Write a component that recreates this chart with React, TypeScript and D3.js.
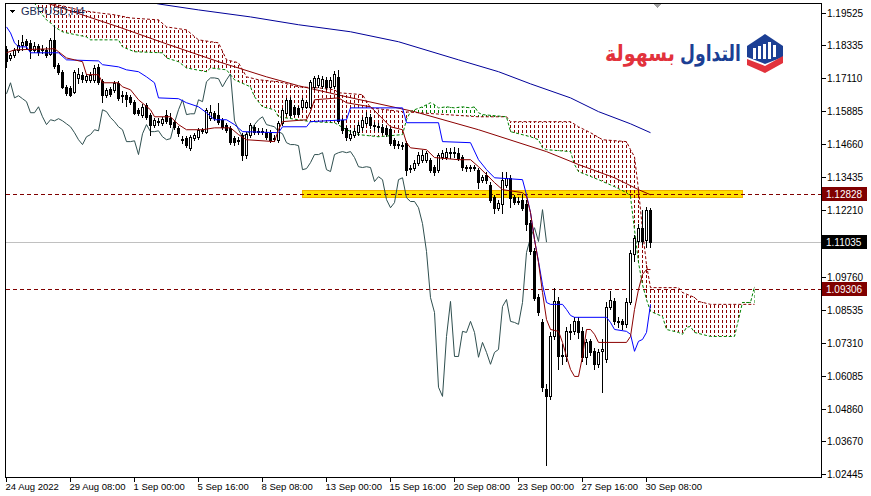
import React from "react";
import * as d3 from "d3";

// ---------- DATA (GBPUSD, H4) ----------
const opens = [
  1.1820, 1.1786, 1.1798, 1.1816, 1.1835, 1.1849, 1.1842, 1.1816, 1.1831, 1.1820,
  1.1816, 1.1801, 1.1853, 1.1761, 1.1735, 1.1679, 1.1675, 1.1661, 1.1712, 1.1724,
  1.1705, 1.1705, 1.1705, 1.1753, 1.1701, 1.1650, 1.1672, 1.1668, 1.1694, 1.1650,
  1.1650, 1.1642, 1.1624, 1.1594, 1.1576, 1.1613, 1.1576, 1.1539, 1.1550, 1.1546,
  1.1576, 1.1565, 1.1550, 1.1527, 1.1487, 1.1490, 1.1453, 1.1490, 1.1494, 1.1520,
  1.1513, 1.1565, 1.1583, 1.1576, 1.1557, 1.1539, 1.1527, 1.1490, 1.1483, 1.1502,
  1.1428, 1.1502, 1.1531, 1.1516, 1.1513, 1.1513, 1.1509, 1.1490, 1.1483, 1.1546,
  1.1583, 1.1631, 1.1605, 1.1601, 1.1605, 1.1605, 1.1605, 1.1679, 1.1686, 1.1683,
  1.1705, 1.1679, 1.1683, 1.1716, 1.1557, 1.1527, 1.1490, 1.1502, 1.1513, 1.1531,
  1.1546, 1.1568, 1.1539, 1.1535, 1.1531, 1.1527, 1.1524, 1.1483, 1.1468, 1.1465,
  1.1472, 1.1380, 1.1380, 1.1398, 1.1409, 1.1409, 1.1409, 1.1383, 1.1372, 1.1420,
  1.1420, 1.1439, 1.1435, 1.1435, 1.1420, 1.1383, 1.1380, 1.1383, 1.1372, 1.1335,
  1.1354, 1.1317, 1.1272, 1.1231, 1.1243, 1.1317, 1.1342, 1.1272, 1.1257, 1.1261,
  1.1243, 1.1176, 1.1069, 1.0902, 1.0806, 1.0558, 1.0532, 1.0754, 1.0884, 1.0684,
  1.0680, 1.0773, 1.0773, 1.0810, 1.0773, 1.0677, 1.0736, 1.0699, 1.0651, 1.0699,
  1.0669, 1.0865, 1.0884, 1.0810, 1.0810, 1.0799, 1.0880, 1.1058, 1.1106, 1.1157,
  1.1113, 1.1224,
];
const highs = [
  1.1831, 1.1805, 1.1823, 1.1853, 1.1872, 1.1857, 1.1853, 1.1846, 1.1838, 1.1835,
  1.1827, 1.1860, 1.1909, 1.1768, 1.1742, 1.1686, 1.1683, 1.1742, 1.1749, 1.1735,
  1.1727, 1.1735, 1.1761, 1.1764, 1.1709, 1.1675, 1.1679, 1.1701, 1.1701, 1.1664,
  1.1661, 1.1650, 1.1631, 1.1601, 1.1616, 1.1620, 1.1583, 1.1565, 1.1565, 1.1568,
  1.1594, 1.1583, 1.1557, 1.1535, 1.1498, 1.1498, 1.1502, 1.1509, 1.1527, 1.1527,
  1.1601, 1.1613, 1.1590, 1.1620, 1.1565, 1.1546, 1.1535, 1.1498, 1.1494, 1.1509,
  1.1513, 1.1546, 1.1539, 1.1527, 1.1527, 1.1524, 1.1520, 1.1502, 1.1553, 1.1601,
  1.1638, 1.1642, 1.1613, 1.1609, 1.1638, 1.1631, 1.1705, 1.1720, 1.1724, 1.1720,
  1.1716, 1.1716, 1.1738, 1.1742, 1.1565, 1.1535, 1.1520, 1.1527, 1.1550, 1.1568,
  1.1587, 1.1579, 1.1550, 1.1546, 1.1542, 1.1535, 1.1531, 1.1490, 1.1479, 1.1476,
  1.1479, 1.1391, 1.1409, 1.1439, 1.1446, 1.1442, 1.1417, 1.1391, 1.1435, 1.1446,
  1.1453, 1.1453, 1.1457, 1.1453, 1.1428, 1.1391, 1.1391, 1.1391, 1.1380, 1.1354,
  1.1365, 1.1328, 1.1279, 1.1261, 1.1365, 1.1365, 1.1354, 1.1279, 1.1272, 1.1283,
  1.1261, 1.1187, 1.1083, 1.0910, 1.0817, 1.0577, 1.0769, 1.0935, 1.0902, 1.0725,
  1.0788, 1.0799, 1.0825, 1.0825, 1.0788, 1.0743, 1.0743, 1.0713, 1.0706, 1.0743,
  1.0880, 1.0921, 1.0898, 1.0825, 1.0817, 1.0898, 1.1076, 1.1131, 1.1169, 1.1224,
  1.1235, 1.1231,
];
const lows = [
  1.1753, 1.1779, 1.1790, 1.1809, 1.1816, 1.1823, 1.1786, 1.1809, 1.1798, 1.1805,
  1.1790, 1.1798, 1.1749, 1.1727, 1.1675, 1.1650, 1.1646, 1.1657, 1.1694, 1.1698,
  1.1698, 1.1698, 1.1698, 1.1690, 1.1624, 1.1642, 1.1646, 1.1661, 1.1631, 1.1624,
  1.1609, 1.1616, 1.1579, 1.1576, 1.1568, 1.1561, 1.1502, 1.1531, 1.1539, 1.1539,
  1.1546, 1.1531, 1.1524, 1.1498, 1.1472, 1.1457, 1.1446, 1.1483, 1.1487, 1.1509,
  1.1509, 1.1557, 1.1557, 1.1542, 1.1524, 1.1513, 1.1468, 1.1465, 1.1468, 1.1409,
  1.1417, 1.1494, 1.1505, 1.1505, 1.1505, 1.1487, 1.1476, 1.1479, 1.1476, 1.1539,
  1.1576, 1.1568, 1.1572, 1.1572, 1.1598, 1.1601, 1.1601, 1.1672, 1.1679, 1.1675,
  1.1672, 1.1675, 1.1675, 1.1546, 1.1509, 1.1483, 1.1483, 1.1494, 1.1502, 1.1520,
  1.1539, 1.1527, 1.1520, 1.1516, 1.1505, 1.1498, 1.1465, 1.1453, 1.1453, 1.1450,
  1.1354, 1.1365, 1.1372, 1.1391, 1.1402, 1.1402, 1.1365, 1.1354, 1.1365, 1.1413,
  1.1413, 1.1417, 1.1420, 1.1409, 1.1372, 1.1368, 1.1368, 1.1372, 1.1305, 1.1328,
  1.1324, 1.1254, 1.1213, 1.1224, 1.1213, 1.1309, 1.1235, 1.1246, 1.1243, 1.1224,
  1.1150, 1.1058, 1.0891, 1.0832, 1.0551, 1.0277, 1.0521, 1.0743, 1.0632, 1.0651,
  1.0662, 1.0743, 1.0762, 1.0750, 1.0662, 1.0651, 1.0684, 1.0632, 1.0640, 1.0547,
  1.0658, 1.0854, 1.0799, 1.0788, 1.0780, 1.0788, 1.0873, 1.1032, 1.1095, 1.1095,
  1.1087, 1.1087,
];
const closes = [
  1.1775, 1.1798, 1.1816, 1.1835, 1.1846, 1.1835, 1.1816, 1.1831, 1.1809, 1.1816,
  1.1798, 1.1853, 1.1757, 1.1735, 1.1679, 1.1657, 1.1650, 1.1735, 1.1727, 1.1709,
  1.1720, 1.1724, 1.1749, 1.1698, 1.1650, 1.1668, 1.1653, 1.1694, 1.1638, 1.1646,
  1.1635, 1.1624, 1.1583, 1.1583, 1.1605, 1.1568, 1.1539, 1.1557, 1.1553, 1.1561,
  1.1553, 1.1542, 1.1531, 1.1509, 1.1483, 1.1465, 1.1494, 1.1502, 1.1520, 1.1516,
  1.1594, 1.1587, 1.1565, 1.1550, 1.1531, 1.1520, 1.1476, 1.1476, 1.1479, 1.1428,
  1.1505, 1.1539, 1.1513, 1.1513, 1.1516, 1.1494, 1.1483, 1.1487, 1.1546, 1.1594,
  1.1631, 1.1576, 1.1579, 1.1579, 1.1631, 1.1624, 1.1698, 1.1712, 1.1712, 1.1709,
  1.1679, 1.1705, 1.1727, 1.1553, 1.1520, 1.1494, 1.1505, 1.1516, 1.1539, 1.1557,
  1.1568, 1.1539, 1.1535, 1.1531, 1.1513, 1.1505, 1.1472, 1.1465, 1.1465, 1.1461,
  1.1372, 1.1376, 1.1398, 1.1428, 1.1428, 1.1435, 1.1372, 1.1365, 1.1428, 1.1435,
  1.1439, 1.1435, 1.1439, 1.1417, 1.1383, 1.1380, 1.1383, 1.1380, 1.1328, 1.1346,
  1.1335, 1.1261, 1.1231, 1.1250, 1.1335, 1.1342, 1.1268, 1.1254, 1.1254, 1.1231,
  1.1172, 1.1069, 1.0898, 1.0843, 1.0566, 1.0532, 1.0754, 1.0884, 1.0680, 1.0680,
  1.0773, 1.0769, 1.0810, 1.0769, 1.0677, 1.0732, 1.0695, 1.0651, 1.0695, 1.0706,
  1.0865, 1.0891, 1.0810, 1.0806, 1.0799, 1.0880, 1.1065, 1.1120, 1.1157, 1.1106,
  1.1224, 1.11035,
];

// Ichimoku lines, as [bar index, price] readings
const tenkan: [number, number][] = [
  [0, 1.1805], [2, 1.1816], [12, 1.1820], [13, 1.1809], [15, 1.1786], [17, 1.1779], [19, 1.1772],
  [20, 1.1724], [23, 1.1724], [24, 1.1694], [28, 1.1694], [29, 1.1679], [31, 1.1668], [33, 1.1631],
  [36, 1.1594], [37, 1.1568], [41, 1.1568], [43, 1.1539], [45, 1.1520], [49, 1.1520], [52, 1.1527],
  [56, 1.1527], [58, 1.1502], [60, 1.1483], [67, 1.1476], [68, 1.1520], [69, 1.1550], [75, 1.1557],
  [76, 1.1587], [77, 1.1631], [83, 1.1638], [85, 1.1620], [91, 1.1605], [93, 1.1576], [96, 1.1531],
  [99, 1.1520], [100, 1.1472], [101, 1.1453], [105, 1.1446], [107, 1.1417], [113, 1.1409], [116, 1.1409],
  [118, 1.1383], [120, 1.1354], [122, 1.1324], [124, 1.1298], [129, 1.1287], [130, 1.1272], [131, 1.1213],
  [132, 1.1113], [133, 1.1028], [134, 1.0917], [135, 1.0817], [136, 1.0780], [138, 1.0773], [139, 1.0732],
  [140, 1.0680], [141, 1.0632], [142, 1.0606], [143, 1.0606], [144, 1.0680], [145, 1.0780], [146, 1.0780],
  [147, 1.0762], [148, 1.0732], [155, 1.0732], [156, 1.0754], [157, 1.0854], [158, 1.0928], [159, 1.0984],
  [160, 1.1002], [161, 1.1002],
];
const kijun: [number, number][] = [
  [0, 1.1901], [1, 1.1879], [2, 1.1842], [3, 1.1827], [5, 1.1827], [6, 1.1805], [13, 1.1805], [15, 1.1779],
  [23, 1.1775], [24, 1.1761], [28, 1.1753], [30, 1.1742], [33, 1.1735], [35, 1.1716], [37, 1.1694],
  [38, 1.1638], [43, 1.1635], [45, 1.1620], [48, 1.1605], [50, 1.1583], [52, 1.1557], [55, 1.1557],
  [57, 1.1539], [59, 1.1513], [68, 1.1509], [69, 1.1531], [75, 1.1531], [76, 1.1550], [85, 1.1557],
  [86, 1.1601], [99, 1.1601], [100, 1.1546], [108, 1.1546], [109, 1.1476], [116, 1.1472], [118, 1.1409],
  [120, 1.1372], [122, 1.1342], [129, 1.1335], [130, 1.1279], [131, 1.1213], [132, 1.1113], [133, 1.1032],
  [134, 1.0946], [135, 1.0880], [136, 1.0873], [139, 1.0873], [140, 1.0854], [141, 1.0832], [142, 1.0825],
  [150, 1.0825], [151, 1.0806], [152, 1.0780], [155, 1.0773], [156, 1.0762], [157, 1.0699], [158, 1.0736],
  [159, 1.0743], [160, 1.0769], [161, 1.0873],
];
const senkouA: [number, number][] = [
  [0, 1.2030], [5, 1.2012], [7, 1.1990], [8, 1.1964], [10, 1.1927], [11, 1.1916], [12, 1.1901],
  [14, 1.1883], [15, 1.1879], [20, 1.1864], [21, 1.1853], [28, 1.1853], [29, 1.1827], [32, 1.1809],
  [39, 1.1805], [40, 1.1786], [43, 1.1772], [45, 1.1749], [50, 1.1735],
  [51, 1.1749], [55, 1.1742], [57, 1.1705], [61, 1.1679], [62, 1.1642], [64, 1.1605], [67, 1.1594],
  [68, 1.1568], [73, 1.1557], [76, 1.1550], [82, 1.1546], [85, 1.1520], [88, 1.1502], [93, 1.1494],
  [99, 1.1502], [100, 1.1557], [101, 1.1587], [102, 1.1594], [104, 1.1605], [106, 1.1620], [107, 1.1613],
  [108, 1.1601], [110, 1.1605], [112, 1.1601], [114, 1.1605], [116, 1.1601], [117, 1.1605], [118, 1.1583],
  [119, 1.1576], [125, 1.1568], [126, 1.1513], [131, 1.1494], [133, 1.1483], [134, 1.1453], [135, 1.1446],
  [141, 1.1439], [142, 1.1391], [143, 1.1365], [148, 1.1335], [152, 1.1309], [155, 1.1287], [156, 1.1272],
  [157, 1.1150], [158, 1.1028], [159, 1.0946], [160, 1.0891], [161, 1.0847], [164, 1.0828], [165, 1.0780],
  [168, 1.0769], [169, 1.0762], [170, 1.0788], [171, 1.0791], [172, 1.0769], [176, 1.0754], [182, 1.0754],
  [183, 1.0817], [184, 1.0880], [186, 1.0880], [187, 1.0939],
];
const senkouB: [number, number][] = [
  [0, 1.2045], [6, 1.2001], [10, 1.1990], [14, 1.1979], [18, 1.1964], [23, 1.1953], [27, 1.1946],
  [31, 1.1934], [38, 1.1927], [40, 1.1901], [45, 1.1890], [48, 1.1853], [53, 1.1842], [55, 1.1779],
  [58, 1.1768], [60, 1.1716], [63, 1.1705], [68, 1.1698], [73, 1.1679], [78, 1.1675], [82, 1.1668],
  [83, 1.1657], [89, 1.1650], [91, 1.1601], [99, 1.1587], [110, 1.1576], [118, 1.1568], [125, 1.1568],
  [126, 1.1550], [141, 1.1550], [143, 1.1531], [146, 1.1509], [149, 1.1483], [155, 1.1476], [156, 1.1446],
  [157, 1.1420], [158, 1.1298], [159, 1.1150], [160, 1.1019], [161, 1.0935], [168, 1.0935], [169, 1.0917],
  [172, 1.0899], [173, 1.0884], [176, 1.0873], [187, 1.0873],
];
// moving averages
const maSlow: [number, number][] = [
  [0, 1.2038], [13, 1.1975], [28, 1.1901], [40, 1.1838], [53, 1.1772], [65, 1.1716], [73, 1.1683],
  [85, 1.1642], [102, 1.1587], [118, 1.1520], [135, 1.1439], [143, 1.1391], [152, 1.1342], [158, 1.1298],
  [161, 1.1279],
];
const maLong: [number, number][] = [
  [20, 1.2045], [38, 1.1986], [48, 1.1964], [61, 1.1938], [73, 1.1909], [86, 1.1883], [98, 1.1846],
  [113, 1.1779], [123, 1.1735], [131, 1.1690], [141, 1.1638], [148, 1.1587], [156, 1.1542], [161, 1.1509],
];
const chikouShift = 26;

const timeLabelBars = [0, 16, 32, 48, 64, 80, 96, 112, 128, 144, 160];
const timeLabels = [
  "24 Aug 2022", "29 Aug 08:00", "1 Sep 00:00", "5 Sep 16:00", "8 Sep 08:00", "13 Sep 00:00",
  "15 Sep 16:00", "20 Sep 08:00", "23 Sep 00:00", "27 Sep 16:00", "30 Sep 08:00",
];
const priceTicks = [
  1.19525, 1.18335, 1.1711, 1.15885, 1.1466, 1.13435, 1.1221, 1.0976, 1.08535, 1.0731, 1.06085,
  1.0486, 1.0367, 1.02445,
];
const resistanceLevel = 1.12828;
const supportLevel = 1.09306;
const currentPrice = 1.11035;
const zoneStartBar = 74;
const zoneEndBar = 184;

// ---------- LAYOUT ----------
const W = 871;
const H = 496;
const PL = 5.5, PR = 821.5, PT = 3.5, PB = 477.5;
const FONT = "'Liberation Sans', Arial, sans-serif";

export default function App() {
  const x = d3.scaleLinear().domain([0, 1]).range([6.5, 10.5]);
  const y = d3.scaleLinear().domain([1.02445, 1.19525]).range([474, 13]);
  const line = d3.line<[number, number]>().x((d) => x(d[0])).y((d) => y(d[1]));
  const py = (v: number) => Math.round(y(v)) + 0.5;

  const chikou: [number, number][] = closes.slice(chikouShift).map((c, j) => [j, c]);

  const cloudPoly = line([...senkouA, ...[...senkouB].reverse()]) + "Z";
  const aFirst = x(senkouA[0][0]);
  const aLast = x(senkouA[senkouA.length - 1][0]);
  const aPath = line(senkouA) as string;
  const aboveA = aPath + `L${aLast},-200L${aFirst},-200Z`;
  const belowA = aPath + `L${aLast},${H + 200}L${aFirst},${H + 200}Z`;

  const hLine = (v: number, color: string, dash?: string) => (
    <line x1={PL} x2={PR} y1={py(v)} y2={py(v)} stroke={color} strokeDasharray={dash} />
  );

  const priceBox = (v: number, bg: string) => (
    <g>
      <rect x={822} y={py(v) - 7.5} width={45} height={14} fill={bg} />
      <text x={826} y={py(v)} dy="0.35em" fontFamily={FONT} fontSize={10} fill="#fff">
        {v.toFixed(5)}
      </text>
    </g>
  );

  return (
    <svg
      width={W}
      height={H}
      style={{ position: "absolute", left: 0, top: 0, background: "#fff" }}
      shapeRendering="crispEdges"
    >
      <defs>
        <clipPath id="plot">
          <rect x={PL} y={PT} width={PR - PL} height={PB - PT} />
        </clipPath>
        <clipPath id="aboveA">
          <path d={aboveA} />
        </clipPath>
        <clipPath id="belowA">
          <path d={belowA} />
        </clipPath>
        <pattern id="hatchRed" patternUnits="userSpaceOnUse" width={4} height={5}>
          <rect x={2} y={0} width={1} height={3} fill="#8b0000" />
        </pattern>
        <pattern id="hatchGreen" patternUnits="userSpaceOnUse" width={4} height={5}>
          <rect x={2} y={0} width={1} height={3} fill="#008000" />
        </pattern>
      </defs>

      <rect x={0} y={0} width={W} height={H} fill="#fff" />

      <g clipPath="url(#plot)">
        {/* yellow zone */}
        <rect
          x={x(zoneStartBar)}
          y={py(resistanceLevel) - 4}
          width={x(zoneEndBar) - x(zoneStartBar)}
          height={7}
          fill="#ffe000"
          stroke="#f0b000"
        />
        {/* current price line */}
        {hLine(currentPrice, "#c0c0c0")}

        {/* Ichimoku cloud */}
        <g clipPath="url(#aboveA)">
          <path d={cloudPoly} fill="url(#hatchRed)" />
        </g>
        <g clipPath="url(#belowA)">
          <path d={cloudPoly} fill="url(#hatchGreen)" />
        </g>
        <path d={line(senkouB) as string} fill="none" stroke="#8b0000" strokeDasharray="3,2" shapeRendering="auto" />
        <path d={line(senkouA) as string} fill="none" stroke="#008000" strokeDasharray="3,2" shapeRendering="auto" />

        {/* dashed levels */}
        {hLine(resistanceLevel, "#800000", "4,3")}
        {hLine(supportLevel, "#800000", "4,3")}

        {/* moving averages */}
        <path d={line(maLong) as string} fill="none" stroke="#000099" shapeRendering="auto" />
        <path d={line(maSlow) as string} fill="none" stroke="#8b0000" shapeRendering="auto" />

        {/* chikou */}
        <path d={line(chikou) as string} fill="none" stroke="#2f4f4f" shapeRendering="auto" />

        {/* candles */}
        {opens.map((o, i) => {
          const c = closes[i];
          const cx = x(i);
          const yt = Math.round(y(Math.max(o, c)));
          const yb = Math.round(y(Math.min(o, c)));
          const bull = c >= o;
          return (
            <g key={i}>
              <line x1={cx} x2={cx} y1={Math.round(y(highs[i]))} y2={Math.round(y(lows[i])) + 1} stroke="#000" />
              {yb - yt < 1 ? (
                <line x1={cx - 1.5} x2={cx + 1.5} y1={yt + 0.5} y2={yt + 0.5} stroke="#000" />
              ) : (
                <rect x={cx - 1} y={yt + 0.5} width={2} height={yb - yt} fill={bull ? "#fff" : "#000"} stroke="#000" />
              )}
            </g>
          );
        })}

        {/* tenkan & kijun */}
        <path d={line(kijun) as string} fill="none" stroke="#0000ff" shapeRendering="auto" />
        <path d={line(tenkan) as string} fill="none" stroke="#8b0000" shapeRendering="auto" />
      </g>

      {/* frame */}
      <rect x={PL} y={PT} width={PR - PL} height={PB - PT} fill="none" stroke="#000" />

      {/* price axis */}
      {priceTicks.map((t) => (
        <g key={t}>
          <line x1={PR} x2={PR + 4} y1={py(t)} y2={py(t)} stroke="#000" />
          <text x={827} y={py(t)} dy="0.35em" fontFamily={FONT} fontSize={10} fill="#000">
            {t.toFixed(5)}
          </text>
        </g>
      ))}
      {priceBox(resistanceLevel, "#800000")}
      {priceBox(currentPrice, "#000")}
      {priceBox(supportLevel, "#800000")}

      {/* time axis */}
      {timeLabelBars.map((b, k) => (
        <g key={b}>
          <line x1={x(b)} x2={x(b)} y1={PB} y2={PB + 4} stroke="#000" />
          <text x={x(b) - 1} y={490} fontFamily={FONT} fontSize={9.5} fill="#000">
            {timeLabels[k]}
          </text>
        </g>
      ))}

      {/* title */}
      <path d="M9,10 L15,10 L12,13 Z" fill="#000" />
      <text x={21} y={15} fontFamily={FONT} fontSize={11} fill="#1a2a50">GBPUSD,H4</text>

      {/* chart shift marker */}
      <path d="M653,3.5 L662,3.5 L657.5,8 Z" fill="#a0a0a0" />

      {/* logo */}
      <g shapeRendering="auto">
        <text x={741} y={61} textAnchor="end" textLength={61} lengthAdjust="spacingAndGlyphs"
          fontFamily="'DejaVu Sans', sans-serif" fontWeight="bold" fontSize={22} fill="#1c3f94">
          التداول
        </text>
        <text x={675} y={61} textAnchor="end" textLength={70} lengthAdjust="spacingAndGlyphs"
          fontFamily="'DejaVu Sans', sans-serif" fontWeight="bold" fontSize={22} fill="#e2323c">
          بسهولة
        </text>
        <path d="M747,46 L765,34 L783,46 L783,57 L765,64 L747,57 Z" fill="#1c3f94" />
        <rect x={753} y={48} width={3} height={11} fill="#fff" />
        <rect x={758} y={46} width={3} height={13} fill="#fff" />
        <rect x={763} y={44} width={3} height={15} fill="#fff" />
        <rect x={768} y={42} width={3} height={17} fill="#fff" />
        <rect x={773} y={45} width={3} height={12} fill="#fff" />
        <path d="M747,59 L765,66 L783,56 L783,63 L765,73 L747,65 Z" fill="#e2323c" />
      </g>
    </svg>
  );
}
